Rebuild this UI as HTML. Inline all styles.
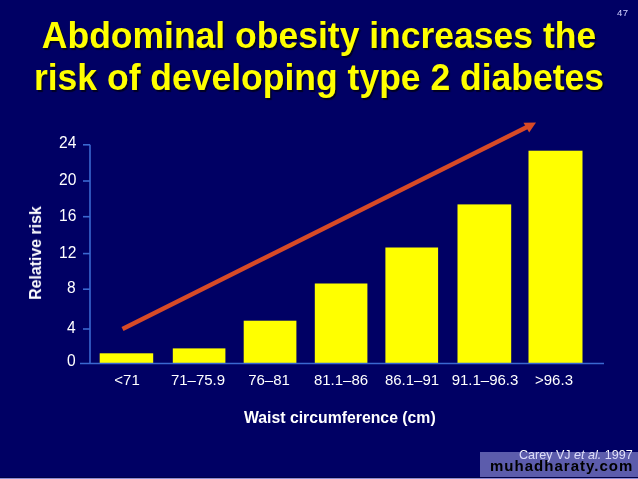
<!DOCTYPE html>
<html><head><meta charset="utf-8">
<style>
html,body{margin:0;padding:0;}
.t,.yl,.xl{will-change:transform;}
body{width:638px;height:479px;overflow:hidden;background:#000064;position:relative;font-family:"Liberation Sans",sans-serif;}
.t{position:absolute;white-space:nowrap;line-height:1;}
.title{left:0;width:638px;text-align:center;color:#ffff00;font-weight:bold;font-size:35.5px;text-shadow:1.5px 1.5px 1px rgba(0,0,20,0.8);transform:scaleY(1.045);transform-origin:50% 84.65%;}
.yl{position:absolute;right:562px;color:#fff;font-size:15.6px;line-height:1;white-space:nowrap;transform:scaleY(1.03);transform-origin:0 84.65%;}
.xl{position:absolute;color:#fff;font-size:15px;line-height:1;white-space:nowrap;transform:translateX(-50%);}
svg{position:absolute;left:0;top:0;}
</style></head>
<body>
<div class="t title" style="top:19.2px;">Abdominal obesity increases the</div>
<div class="t title" style="top:61.35px;">risk of developing type 2 diabetes</div>
<div class="t" style="left:617px;top:8.1px;font-size:9.6px;letter-spacing:0.3px;color:#d0d0ff;">47</div>

<svg width="638" height="479" viewBox="0 0 638 479">
  <g fill="#ffff00">
    <rect x="99.7" y="353.3" width="53.5" height="9.9"/>
    <rect x="172.8" y="348.4" width="52.6" height="14.8"/>
    <rect x="243.7" y="320.7" width="52.7" height="42.5"/>
    <rect x="314.8" y="283.5" width="52.6" height="79.7"/>
    <rect x="385.4" y="247.5" width="52.7" height="115.7"/>
    <rect x="457.5" y="204.4" width="53.7" height="158.8"/>
    <rect x="528.5" y="150.7" width="54" height="212.5"/>
  </g>
  <g stroke="#3a68d0" stroke-width="1.6" fill="none">
    <line x1="90" y1="144.8" x2="90" y2="363.5"/>
    <line x1="80" y1="363.5" x2="604" y2="363.5"/>
    <line x1="83" y1="144.8" x2="90" y2="144.8"/>
    <line x1="83" y1="181" x2="90" y2="181"/>
    <line x1="83" y1="216.7" x2="90" y2="216.7"/>
    <line x1="83" y1="253.6" x2="90" y2="253.6"/>
    <line x1="83" y1="289.2" x2="90" y2="289.2"/>
    <line x1="83" y1="329" x2="90" y2="329"/>
  </g>
  <line x1="122.5" y1="329" x2="528" y2="126.5" stroke="#d84a26" stroke-width="4.5"/>
  <polygon points="536,122.4 523.5,122.8 529.2,132.5" fill="#d84a26"/>
</svg>

<div class="yl" style="top:135.29px;">24</div>
<div class="yl" style="top:172.39px;">20</div>
<div class="yl" style="top:207.59px;">16</div>
<div class="yl" style="top:244.59px;">12</div>
<div class="yl" style="top:279.69px;">8</div>
<div class="yl" style="top:319.9px;">4</div>
<div class="yl" style="top:353.39px;">0</div>

<div class="xl" style="left:126.8px;top:371.7px;">&lt;71</div>
<div class="xl" style="left:197.9px;top:371.7px;">71–75.9</div>
<div class="xl" style="left:268.5px;top:371.7px;">76–81</div>
<div class="xl" style="left:341.2px;top:371.7px;">81.1–86</div>
<div class="xl" style="left:411.5px;top:371.7px;">86.1–91</div>
<div class="xl" style="left:484.5px;top:371.7px;">91.1–96.3</div>
<div class="xl" style="left:554.1px;top:371.7px;">&gt;96.3</div>

<div class="t" style="left:243.6px;top:409.6px;font-size:15.8px;font-weight:bold;color:#fff;">Waist circumference (cm)</div>
<div class="t" style="left:36px;top:252.6px;font-size:15.9px;font-weight:bold;color:#fff;transform:translate(-50%,-50%) rotate(-90deg);">Relative risk</div>

<div class="t" style="left:519.2px;top:449.0px;font-size:12.55px;color:#fff;">Carey VJ <i>et al.</i> 1997</div>

<div style="position:absolute;left:480px;top:452px;width:158px;height:25px;background:rgba(184,184,244,0.5);"></div>
<div style="position:absolute;left:0;top:477px;width:638px;height:1px;background:rgba(0,0,0,0.3);"></div>
<div style="position:absolute;left:0;top:478px;width:638px;height:1px;background:#8c8cd4;"></div>
<div class="t" style="left:489.5px;top:457.8px;font-size:15px;font-weight:bold;color:#000;letter-spacing:1.02px;">muhadharaty.com</div>
</body></html>
